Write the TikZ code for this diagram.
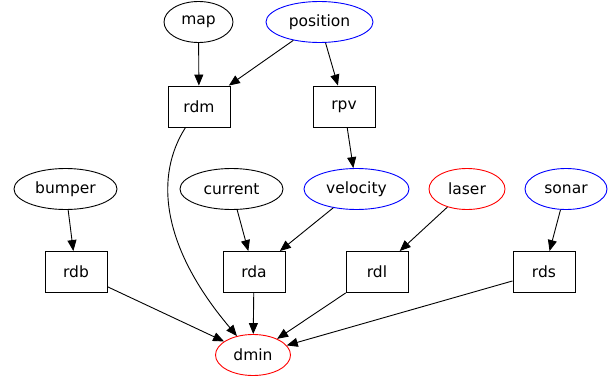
\documentclass[tikz,border=0pt]{standalone}
\usepackage{fontspec}
\setmainfont{DejaVu Sans}
\usetikzlibrary{arrows.meta,shapes.geometric}
\definecolor{gvblue}{RGB}{0,0,255}
\definecolor{gvred}{RGB}{255,0,0}
\begin{document}
\begin{tikzpicture}[x=1pt,y=-1pt,
  every node/.style={font=\fontsize{15.5}{18}\selectfont},
  ell/.style={ellipse, draw, line width=0.9pt, minimum height=41pt, inner sep=0pt},
  box/.style={rectangle, draw, line width=0.9pt, minimum width=62pt, minimum height=41pt, inner sep=0pt},
  arr/.style={-{Triangle[length=11pt,width=9pt]}, line width=0.9pt}]
\useasboundingbox (0,0) rectangle (616,383);
% row 0
\node[ell, minimum width=69pt] (map) at (198.5,22) {map};
\node[ell, draw=gvblue, minimum width=107pt] (position) at (319.5,22) {position};
% row 1
\node[box] (rdm) at (199,106.5) {rdm};
\node[box] (rpv) at (344,106.5) {rpv};
% row 2
\node[ell, minimum width=103pt] (bumper) at (65.5,189) {bumper};
\node[ell, minimum width=103pt] (current) at (231.5,189) {current};
\node[ell, draw=gvblue, minimum width=105pt] (velocity) at (356.5,189) {velocity};
\node[ell, draw=gvred, minimum width=76pt] (laser) at (467,189) {laser};
\node[ell, draw=gvblue, minimum width=82pt] (sonar) at (566,189) {sonar};
% row 3
\node[box] (rdb) at (76,272) {rdb};
\node[box] (rda) at (254,272) {rda};
\node[box] (rdl) at (377,272) {rdl};
\node[box] (rds) at (544,272) {rds};
% row 4
\node[ell, draw=gvred, minimum width=75pt] (dmin) at (253,355) {dmin};
% edges
\draw[arr] (map) -- (rdm);
\draw[arr] (position) -- (rdm);
\draw[arr] (position) -- (rpv);
\draw[arr] (rpv) -- (velocity);
\draw[arr] (bumper) -- (rdb);
\draw[arr] (current) -- (rda);
\draw[arr] (velocity) -- (rda);
\draw[arr] (laser) -- (rdl);
\draw[arr] (sonar) -- (rds);
\draw[arr] (rdb) -- (dmin);
\draw[arr] (rda) -- (dmin);
\draw[arr] (rdl) -- (dmin);
\draw[arr] (rds) -- (dmin);
\draw[arr] (rdm) .. controls (155,175) and (160,245) .. (dmin);
\end{tikzpicture}
\end{document}
